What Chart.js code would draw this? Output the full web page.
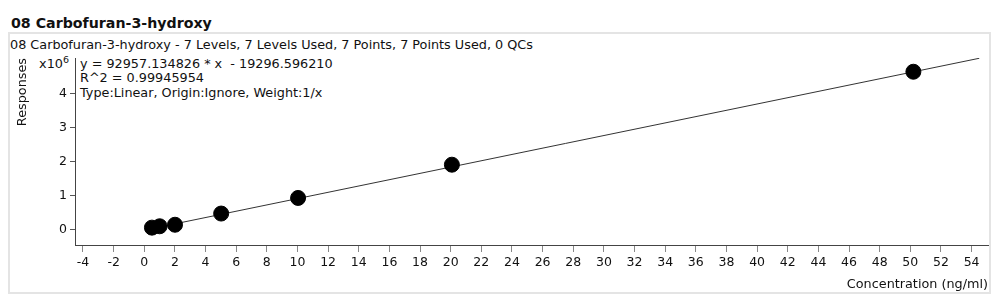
<!DOCTYPE html>
<html>
<head>
<meta charset="utf-8">
<script src="https://cdn.jsdelivr.net/npm/chart.js@4/dist/chart.umd.min.js"></script>
<style>
  html, body { margin: 0; padding: 0; background: #fff; }
  body { width: 1001px; height: 304px; position: relative; overflow: hidden;
         font-family: "DejaVu Sans", sans-serif; color: #111; }
  #frame { position: absolute; left: 8px; top: 32px; width: 979px; height: 258px;
           border: 2px solid #e4e4e4; }
  #title { position: absolute; left: 11px; top: 15.4px; font-size: 14.2px; font-weight: bold;
           line-height: 16px; white-space: nowrap; }
  .txt { position: absolute; font-size: 12.8px; line-height: 14.6px; white-space: nowrap; }
  #subtitle { left: 10px; top: 38.3px; }
  #fit { left: 80px; top: 56.6px; }
  #mult { left: 26px; width: 43px; top: 56.6px; text-align: right; }
  #mult sup { font-size: 9.5px; line-height: 0; vertical-align: 5px; }
  canvas { position: absolute; left: 0; top: 0; }
</style>
</head>
<body>
<div id="frame"></div>
<div id="title">08 Carbofuran-3-hydroxy</div>
<div id="subtitle" class="txt">08 Carbofuran-3-hydroxy - 7 Levels, 7 Levels Used, 7 Points, 7 Points Used, 0 QCs</div>
<div id="fit" class="txt"></div>
<div id="mult" class="txt">x10<sup>6</sup></div>
<canvas id="chart" width="1001" height="304"></canvas>
<script>
// Calibration levels (ng/ml) and measured responses
const concentrations = [0.502, 1.004, 2.008, 5.02, 10.04, 20.08, 50.2];
const responses = [55000, 95000, 140000, 470000, 930000, 1910000, 4650000];

// Linear fit (weight 1/x)
const slope = 92957.134826;
const intercept = -19296.596210;
const rSquared = 0.99945954;
const fitRange = [0.502, 54.5];

// Axis ticks
const xTickValues = [-4, -2, 0, 2, 4, 6, 8, 10, 12, 14, 16, 18, 20, 22, 24, 26, 28, 30,
                     32, 34, 36, 38, 40, 42, 44, 46, 48, 50, 52, 54];
const yTickValues = [0, 1, 2, 3, 4];
const yScaleFactor = 1e6;

document.getElementById('fit').innerHTML =
  'y = ' + slope.toFixed(6) + ' * x &nbsp;- ' + Math.abs(intercept).toFixed(6) + '<br>' +
  'R^2 = ' + rSquared.toFixed(8) + '<br>' +
  'Type:Linear, Origin:Ignore, Weight:1/x';

const points = concentrations.map((x, i) => ({ x: x, y: responses[i] }));
const fitLine = fitRange.map(x => ({ x: x, y: slope * x + intercept }));

const tickFont = { family: 'DejaVu Sans', size: 12.5 };
const titleFont = { family: 'DejaVu Sans', size: 12.8 };

new Chart(document.getElementById('chart'), {
  type: 'scatter',
  data: {
    datasets: [
      {
        label: 'Points',
        data: points,
        backgroundColor: '#000',
        borderColor: '#000',
        pointRadius: 7.5,
        pointHoverRadius: 7.5,
        order: 0
      },
      {
        label: 'Fit',
        type: 'line',
        data: fitLine,
        borderColor: '#333',
        borderWidth: 1,
        pointRadius: 0,
        fill: false,
        order: 1
      }
    ]
  },
  options: {
    responsive: false,
    animation: false,
    devicePixelRatio: 1,
    layout: { padding: { top: 58, right: 13, left: 0, bottom: 0 } },
    plugins: { legend: { display: false }, tooltip: { enabled: false } },
    scales: {
      x: {
        type: 'linear',
        min: -4.52,
        max: 55.07,
        afterBuildTicks: s => { s.ticks = xTickValues.map(v => ({ value: v })); },
        afterFit: s => { s.height = 59; },
        border: { display: true, color: '#444', width: 1 },
        grid: { drawOnChartArea: false, drawTicks: true, tickLength: 7, tickColor: '#888' },
        ticks: { autoSkip: false, maxRotation: 0, padding: 3, color: '#111', font: tickFont },
        title: { display: true, text: 'Concentration (ng/ml)', align: 'end', color: '#111',
                 font: titleFont, padding: { top: 0, bottom: 12 } }
      },
      y: {
        type: 'linear',
        min: -0.457 * yScaleFactor,
        max: 5.055 * yScaleFactor,
        afterBuildTicks: s => { s.ticks = yTickValues.map(v => ({ value: v * yScaleFactor })); },
        afterFit: s => { s.width = 75; },
        border: { display: true, color: '#444', width: 1 },
        grid: { drawOnChartArea: false, drawTicks: true, tickLength: 5, tickColor: '#555' },
        ticks: { padding: 3, color: '#111', font: tickFont,
                 callback: v => String(Math.round(v / yScaleFactor)) },
        title: { display: true, text: 'Responses', align: 'end', color: '#111',
                 font: titleFont, padding: { top: 15, bottom: 0 } }
      }
    }
  }
});
</script>
</body>
</html>
